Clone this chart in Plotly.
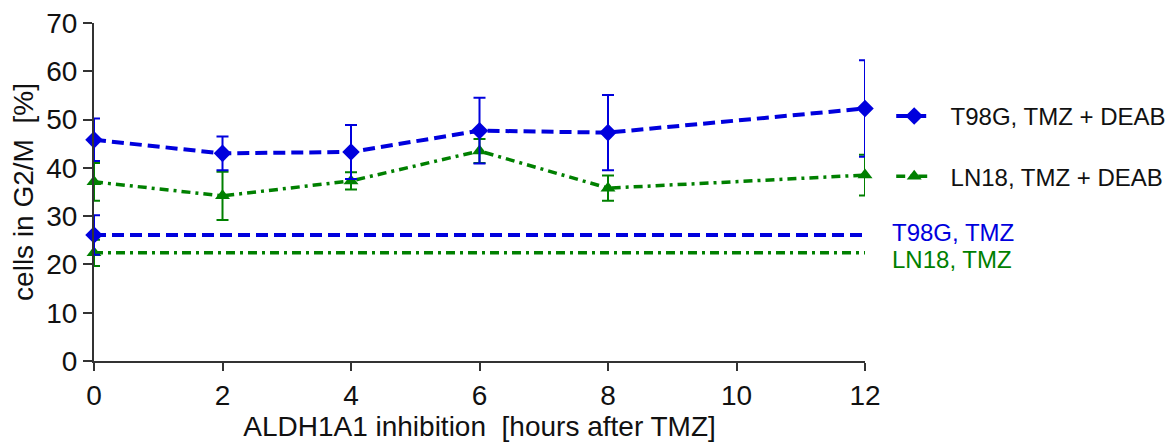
import plotly.graph_objects as go

# Time after TMZ at which ALDH1A1 was inhibited (hours)
hours = [0, 2, 4, 6, 8, 12]

# G2/M fraction (%) with DEAB added, mean and SD
t98g_deab = [45.8, 43.0, 43.3, 47.7, 47.3, 52.3]
t98g_deab_sd = [4.4, 3.5, 5.6, 6.8, 7.8, 10.0]
ln18_deab = [37.1, 34.2, 37.3, 43.5, 35.8, 38.5]
ln18_deab_sd = [3.9, 5.0, 1.8, 2.5, 2.6, 4.2]

# TMZ-only reference levels (%), mean and SD
t98g_tmz = 26.1
t98g_tmz_sd = 4.1
ln18_tmz = 22.4
ln18_tmz_sd = 2.7

series_names = ["T98G, TMZ + DEAB", "LN18, TMZ + DEAB"]
ref_names = ["T98G, TMZ", "LN18, TMZ"]

x_ticks = [0, 2, 4, 6, 8, 10, 12]
y_ticks = [0, 10, 20, 30, 40, 50, 60, 70]

BLUE = "#0000DD"
GREEN = "#008000"
INK = "#111111"
FONT = "Liberation Sans, Arial, sans-serif"
BLUE_DASH = "12px,6px"
GREEN_DASH = "9px,5px,3px,5px"
NBSP = "\u00a0"

fig = go.Figure()

# TMZ-only levels: flat line across the time axis, marker + SD at t=0
ref_x = [hours[0], hours[-1]]
fig.add_trace(go.Scatter(
    x=ref_x, y=[ln18_tmz, ln18_tmz], mode="lines",
    line=dict(color=GREEN, width=3.5, dash=GREEN_DASH),
    showlegend=False, cliponaxis=False, hoverinfo="skip",
))
fig.add_trace(go.Scatter(
    x=[hours[0]], y=[ln18_tmz], mode="markers",
    marker=dict(symbol="triangle-up", size=13, color=GREEN),
    error_y=dict(type="data", array=[ln18_tmz_sd], visible=True,
                 color=GREEN, thickness=2, width=6),
    showlegend=False, cliponaxis=False,
))
fig.add_trace(go.Scatter(
    x=ref_x, y=[t98g_tmz, t98g_tmz], mode="lines",
    line=dict(color=BLUE, width=4, dash=BLUE_DASH),
    showlegend=False, cliponaxis=False, hoverinfo="skip",
))
fig.add_trace(go.Scatter(
    x=[hours[0]], y=[t98g_tmz], mode="markers",
    marker=dict(symbol="diamond", size=13.5, color=BLUE),
    error_y=dict(type="data", array=[t98g_tmz_sd], visible=True,
                 color=BLUE, thickness=2, width=6),
    showlegend=False, cliponaxis=False,
))

# DEAB time courses
fig.add_trace(go.Scatter(
    x=hours, y=ln18_deab, mode="lines+markers",
    name=NBSP * 2 + series_names[1],
    line=dict(color=GREEN, width=3.5, dash=GREEN_DASH),
    marker=dict(symbol="triangle-up", size=13, color=GREEN),
    error_y=dict(type="data", array=ln18_deab_sd, visible=True,
                 color=GREEN, thickness=2, width=6),
    legendgroup="ln18", legendrank=2, cliponaxis=False,
))
fig.add_trace(go.Scatter(
    x=hours, y=t98g_deab, mode="lines+markers",
    name=NBSP * 2 + series_names[0],
    line=dict(color=BLUE, width=4, dash=BLUE_DASH),
    marker=dict(symbol="diamond", size=13.5, color=BLUE),
    error_y=dict(type="data", array=t98g_deab_sd, visible=True,
                 color=BLUE, thickness=2, width=6),
    legendgroup="t98g", legendrank=1, cliponaxis=False,
))

# Labels for the TMZ-only lines
fig.add_annotation(x=hours[-1], y=t98g_tmz, text=ref_names[0], showarrow=False,
                   xanchor="left", xshift=25, yshift=2,
                   font=dict(family=FONT, size=24, color=BLUE))
fig.add_annotation(x=hours[-1], y=ln18_tmz, text=ref_names[1], showarrow=False,
                   xanchor="left", xshift=25, yshift=-7,
                   font=dict(family=FONT, size=24, color=GREEN))

axis_common = dict(
    showgrid=False, zeroline=False, showline=True, linecolor="#333333",
    linewidth=2, ticks="outside", tickcolor="#333333", tickwidth=2,
    tickfont=dict(family=FONT, size=28, color=INK),
)

fig.update_xaxes(
    range=[0, 12], tickvals=x_ticks, ticklen=8,
    title=dict(text="ALDH1A1 inhibition  [hours after TMZ]", standoff=6,
               font=dict(family=FONT, size=28, color=INK)),
    **axis_common,
)
fig.update_yaxes(
    range=[0, 70], tickvals=y_ticks, ticklen=9,
    title=dict(text="cells in G2/M  [%]", standoff=4,
               font=dict(family=FONT, size=28, color=INK)),
    **axis_common,
)

fig.update_layout(
    width=1174, height=443,
    margin=dict(l=94, r=309, t=23, b=82, autoexpand=False),
    plot_bgcolor="white", paper_bgcolor="white",
    showlegend=True,
    legend=dict(
        x=1.034, y=0.79, xanchor="left", yanchor="top",
        font=dict(family=FONT, size=24, color=INK),
        itemwidth=36, tracegroupgap=26, bgcolor="rgba(0,0,0,0)",
    ),
)

fig.write_html("out.html")
